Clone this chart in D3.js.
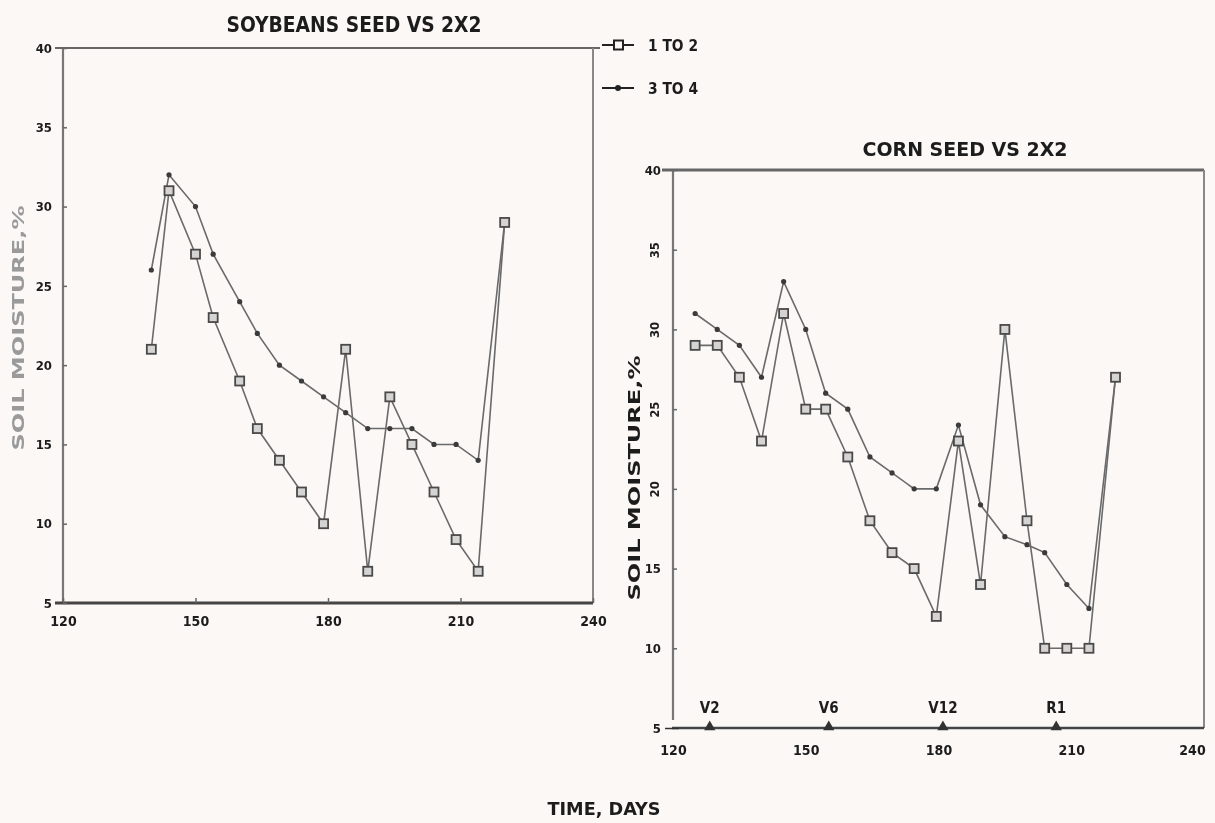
<!DOCTYPE html>
<html>
<head>
<meta charset="utf-8">
<script src="https://cdn.jsdelivr.net/npm/d3@7"></script>
<style>
  body { margin: 0; background: #fbf8f6; }
  svg text {
    font-family: "Liberation Sans Narrow", "DejaVu Sans Condensed", "Arial Narrow", sans-serif;
    font-weight: bold;
    fill: #1c1c1c;
  }
</style>
</head>
<body>
<div id="chart"></div>
<script>
// Soybean panel data (days, soil moisture %)
var soyDays = [140, 144, 150, 154, 160, 164, 169, 174, 179, 184, 189, 194, 199, 204, 209, 214, 220];
var soy1to2 = [21, 31, 27, 23, 19, 16, 14, 12, 10, 21, 7, 18, 15, 12, 9, 7, 29];
var soy3to4 = [26, 32, 30, 27, 24, 22, 20, 19, 18, 17, 16, 16, 16, 15, 15, 14, 29];

// Corn panel data
var cornDays = [125, 130, 135, 140, 145, 150, 154.5, 159.5, 164.5, 169.5, 174.5, 179.5, 184.5, 189.5, 195, 200, 204, 209, 214, 220];
var corn1to2 = [29, 29, 27, 23, 31, 25, 25, 22, 18, 16, 15, 12, 23, 14, 30, 18, 10, 10, 10, 27];
var corn3to4 = [31, 30, 29, 27, 33, 30, 26, 25, 22, 21, 20, 20, 24, 19, 17, 16.5, 16, 14, 12.5, 27];

// Corn growth stages
var stageDays = [128.3, 155.2, 181, 206.6];
var stageLabels = ["V2", "V6", "V12", "R1"];

// Tick labels
var xTicks = [120, 150, 180, 210, 240];
var yTicks = [5, 10, 15, 20, 25, 30, 35, 40];
var seriesNames = ["1 TO 2", "3 TO 4"];

var svg = d3.select("#chart")
  .append("svg")
  .attr("width", 1215)
  .attr("height", 823);

svg.append("rect").attr("width", 1215).attr("height", 823).attr("fill", "#fbf8f6");

var defs = svg.append("defs");
defs.append("filter").attr("id", "scan")
  .append("feGaussianBlur").attr("stdDeviation", 0.55);

var g = svg.append("g").attr("filter", "url(#scan)");

// Scales
var soyX = d3.scaleLinear().domain([120, 240]).range([63, 593]);
var soyY = d3.scaleLinear().domain([5, 40]).range([603, 48]);
var cornX = d3.scaleLinear().domain([120, 240]).range([673, 1204]);
var cornY = d3.scaleLinear().domain([5, 40]).range([728, 170]);

function frameLine(x1, y1, x2, y2, w, c) {
  g.append("line")
    .attr("x1", x1).attr("y1", y1).attr("x2", x2).attr("y2", y2)
    .attr("stroke", c).attr("stroke-width", w);
}

function styleAxis(sel, size) {
  sel.select(".domain").remove();
  sel.selectAll(".tick line").attr("stroke", "#666").attr("stroke-width", 1.5);
  sel.selectAll("text").attr("font-size", size).attr("fill", "#1c1c1c");
}

// ---------- Soybean panel ----------
frameLine(63, 48, 63, 603, 2.2, "#777");
frameLine(55, 48, 600, 48, 2.2, "#666");
frameLine(593, 48, 593, 603, 2, "#888");
frameLine(55, 603, 593, 603, 3, "#444");

var soyLeft = g.append("g")
  .attr("transform", "translate(63,0)")
  .call(d3.axisLeft(soyY).tickValues(yTicks).tickSizeInner(-4).tickSizeOuter(0).tickPadding(11));
styleAxis(soyLeft, 13);

var soyBottom = g.append("g")
  .attr("transform", "translate(0,603)")
  .call(d3.axisBottom(soyX).tickValues(xTicks).tickSizeInner(-5).tickSizeOuter(0).tickPadding(13));
styleAxis(soyBottom, 14);

g.append("text")
  .attr("x", 354).attr("y", 32)
  .attr("text-anchor", "middle")
  .attr("font-size", 21)
  .attr("textLength", 255).attr("lengthAdjust", "spacingAndGlyphs")
  .text("SOYBEANS  SEED VS 2X2");

g.append("text")
  .attr("transform", "translate(24,328) rotate(-90)")
  .attr("text-anchor", "middle")
  .attr("font-size", 16)
  .attr("textLength", 245).attr("lengthAdjust", "spacingAndGlyphs")
  .style("fill", "#9a9a9a")
  .text("SOIL MOISTURE,%");

// ---------- Corn panel ----------
frameLine(673, 170, 673, 720, 2.2, "#777");
frameLine(662, 170, 1204, 170, 3, "#666");
frameLine(1204, 170, 1204, 728, 2, "#888");
frameLine(672, 728, 1204, 728, 2.5, "#444");

var cornLeft = g.append("g")
  .attr("transform", "translate(673,0)")
  .call(d3.axisLeft(cornY).tickValues(yTicks).tickSizeInner(-4).tickSizeOuter(0).tickPadding(12));
styleAxis(cornLeft, 13);
cornLeft.selectAll(".tick").each(function(d) {
  var t = d3.select(this).select("text");
  if (d >= 20 && d <= 35) {
    t.attr("text-anchor", "middle").attr("x", 0).attr("dy", "0.35em")
      .attr("transform", "translate(-19,0) rotate(-90)");
  }
  if (d === 5) {
    d3.select(this).select("line").attr("x1", -8).attr("x2", 6).attr("stroke", "#333");
  }
});

var cornBottom = g.append("g")
  .attr("transform", "translate(0,728)")
  .call(d3.axisBottom(cornX).tickValues(xTicks).tickSize(0).tickPadding(17));
styleAxis(cornBottom, 14);
cornBottom.selectAll(".tick text").filter(d => d === 240).attr("x", -12);

g.append("text")
  .attr("x", 965).attr("y", 156)
  .attr("text-anchor", "middle")
  .attr("font-size", 19)
  .attr("textLength", 205).attr("lengthAdjust", "spacingAndGlyphs")
  .text("CORN  SEED VS 2X2");

g.append("text")
  .attr("transform", "translate(640,478) rotate(-90)")
  .attr("text-anchor", "middle")
  .attr("font-size", 16)
  .attr("textLength", 245).attr("lengthAdjust", "spacingAndGlyphs")
  .text("SOIL MOISTURE,%");

// growth stage markers on corn axis
g.selectAll(".stage")
  .data(stageDays)
  .enter()
  .append("path")
  .attr("d", d3.symbol().type(d3.symbolTriangle).size(55))
  .attr("transform", d => `translate(${cornX(d)},727)`)
  .attr("fill", "#333");

g.selectAll(".stageLabel")
  .data(stageDays)
  .enter()
  .append("text")
  .attr("x", d => cornX(d))
  .attr("y", 713)
  .attr("text-anchor", "middle")
  .attr("font-size", 15)
  .text((d, i) => stageLabels[i]);

// ---------- Series ----------
function drawSeries(days, vals, xs, ys, square) {
  var pts = days.map((d, i) => [d, vals[i]]);
  var line = d3.line().x(p => xs(p[0])).y(p => ys(p[1]));
  g.append("path")
    .attr("d", line(pts))
    .attr("fill", "none")
    .attr("stroke", "#6a6a6a")
    .attr("stroke-width", 1.6);
  if (square) {
    g.selectAll(null)
      .data(pts)
      .enter()
      .append("rect")
      .attr("x", p => xs(p[0]) - 4.5)
      .attr("y", p => ys(p[1]) - 4.5)
      .attr("width", 9).attr("height", 9)
      .attr("fill", "#d6d4d2")
      .attr("stroke", "#4a4a4a")
      .attr("stroke-width", 1.8);
  } else {
    g.selectAll(null)
      .data(pts)
      .enter()
      .append("circle")
      .attr("cx", p => xs(p[0]))
      .attr("cy", p => ys(p[1]))
      .attr("r", 2.6)
      .attr("fill", "#3a3a3a");
  }
}

drawSeries(soyDays, soy3to4, soyX, soyY, false);
drawSeries(soyDays, soy1to2, soyX, soyY, true);
drawSeries(cornDays, corn3to4, cornX, cornY, false);
drawSeries(cornDays, corn1to2, cornX, cornY, true);

// ---------- Legend ----------
var legend = g.append("g");
seriesNames.forEach(function(name, i) {
  var y = 45 + i * 43;
  legend.append("line")
    .attr("x1", 602).attr("x2", 634).attr("y1", y).attr("y2", y)
    .attr("stroke", "#222").attr("stroke-width", 2);
  if (i === 0) {
    legend.append("rect")
      .attr("x", 614).attr("y", y - 4.5).attr("width", 9).attr("height", 9)
      .attr("fill", "#fbf8f6").attr("stroke", "#222").attr("stroke-width", 2);
  } else {
    legend.append("circle")
      .attr("cx", 618).attr("cy", y).attr("r", 3).attr("fill", "#222");
  }
  legend.append("text")
    .attr("x", 648).attr("y", y + 6)
    .attr("font-size", 16)
    .attr("textLength", 50).attr("lengthAdjust", "spacingAndGlyphs")
    .text(name);
});

// x axis title
g.append("text")
  .attr("x", 604).attr("y", 815)
  .attr("text-anchor", "middle")
  .attr("font-size", 18)
  .attr("textLength", 113).attr("lengthAdjust", "spacingAndGlyphs")
  .text("TIME, DAYS");
</script>
</body>
</html>
